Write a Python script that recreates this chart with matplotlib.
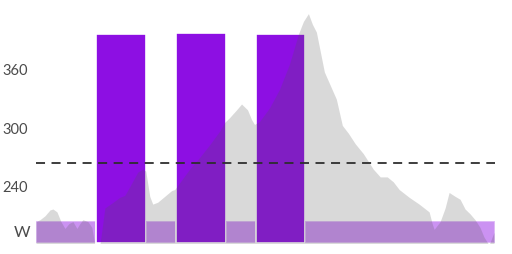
import matplotlib.pyplot as plt

# power trace (minutes, watts)
minutes = [0, 0.4, 0.9, 1.4, 1.7, 2.1, 2.5, 2.9, 3.3, 3.7, 4.1, 4.4, 4.7, 5.2, 5.6, 5.9,
           6.4, 6.6, 6.9, 7.6, 8.4, 8.9, 9.4, 10.2, 10.7, 11.0, 11.4, 11.7, 12.2, 12.9,
           13.6, 13.9, 14.4, 15.4, 16.4, 17.4, 18.4, 18.9, 19.4, 20.1, 20.6, 21.2, 21.6,
           21.9, 22.4, 23.4, 24.4, 25.4, 26.3, 26.8, 27.3, 27.7, 28.1, 28.9, 29.5,
           30.1, 30.7, 31.3, 32.0, 32.8, 33.8, 34.5, 35.2, 35.8, 36.4, 37.4, 38.4, 39.4,
           39.7, 39.9, 40.5, 41.0, 41.4, 42.0, 42.5, 43.0, 43.5, 44.0, 44.5, 44.9, 45.4,
           45.9]
watts = [204, 206, 210, 216, 217, 214, 204, 197, 202, 204, 197, 202, 206, 204, 198, 180,
         180, 195, 218, 223, 229, 231, 240, 255, 258, 256, 230, 222, 224, 230,
         236, 237, 244, 258, 270, 283, 297, 306, 311, 319, 325, 319, 309,
         304, 307, 321, 340, 366, 397, 410, 418, 407, 399, 358, 344,
         330, 303, 295, 284, 274, 258, 250, 250, 245, 237, 229, 222, 214,
         202, 196, 204, 218, 234, 230, 227, 217, 212, 206, 198, 188, 180,
         193]

# workout steps
step_start = [0, 6, 11, 14, 19, 22, 27]
step_len = [6, 5, 3, 5, 3, 5, 19]
step_power = [205, 397, 205, 398, 205, 397, 205]
ftp = 264
yticks = [240, 300, 360]

purple = '#8d0fe3'
y_min = 182

fig = plt.figure(figsize=(5.12, 2.54), dpi=100)
ax = fig.add_axes([36 / 512, 11 / 254, 459 / 512, 243 / 254])

for s, l, p in zip(step_start, step_len, step_power):
    a = 1.0 if p > ftp else 0.45
    ax.bar(s, p - y_min, width=l, bottom=y_min, align='edge', color=purple,
           alpha=a, edgecolor='white', linewidth=1.2, zorder=1)

ax.fill_between(minutes, y_min - 5, watts, color='#555555', alpha=0.22,
                linewidth=0, zorder=2)

ln = ax.axhline(ftp, color='#2e2e2e', linewidth=1.3, zorder=3)
ln.set_dashes((5, 3.6))

ax.set_xlim(0, 46)
ax.set_ylim(y_min, 432)
ax.set_yticks(yticks)
ax.set_yticklabels([str(v) for v in yticks], fontsize=10.5, color='#4a4a4a',
                   family='Lato')
ax.tick_params(axis='y', length=0, pad=6)
ax.set_xticks([])
for sp in ax.spines.values():
    sp.set_visible(False)

fig.text(30 / 512, 1 - 233 / 254, 'W', ha='right', va='center', fontsize=11.5,
         color='#4a4a4a', family='Lato')

fig.savefig('out.png', dpi=100)
